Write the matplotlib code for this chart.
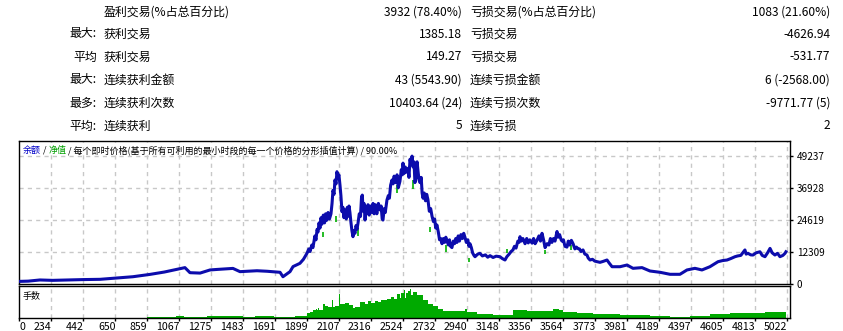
import matplotlib
matplotlib.use("Agg")
import matplotlib.pyplot as plt

plt.rcParams['font.family'] = ['Noto Sans CJK SC', 'DejaVu Sans']

W, H = 843, 331

# ---------------- data ----------------
row_prefix = ["", "最大:", "平均", "最大:", "最多:", "平均:"]
win_caption = ["盈利交易(%占总百分比)", "获利交易", "获利交易", "连续获利金额", "连续获利次数", "连续获利"]
win_value = ["3932 (78.40%)", "1385.18", "149.27", "43 (5543.90)", "10403.64 (24)", "5"]
loss_caption = ["亏损交易(%占总百分比)", "亏损交易", "亏损交易", "连续亏损金额", "连续亏损次数", "连续亏损"]
loss_value = ["1083 (21.60%)", "-4626.94", "-531.77", "6 (-2568.00)", "-9771.77 (5)", "2"]

# balance curve: (trade number, balance)
balance_points = [
    (0, 1000), (60, 1100), (137, 1550), (220, 1400), (314, 1550), (420, 1700), (530, 1800),
    (640, 2300), (745, 2800), (857, 3700), (950, 4600),
    (1033, 5650), (1085, 6300), (1118, 4350), (1184, 4200), (1249, 5400), (1295, 5600),
    (1399, 6000), (1445, 4750), (1556, 5100), (1622, 4900), (1707, 4500), (1726, 2800),
    (1772, 4750), (1792, 6700), (1837, 7950), (1860, 9500), (1883, 11800), (1895, 13500),
    (1903, 12500), (1915, 15000), (1922, 14000), (1935, 18500), (1942, 17000), (1949, 21000),
    (1955, 20000), (1962, 23500), (1968, 21500), (1975, 25500), (1981, 23000), (1990, 26500),
    (1998, 23500), (2005, 27000), (2012, 24500), (2021, 27500), (2030, 25000), (2040, 27000),
    (2047, 31000), (2053, 36000), (2060, 34500), (2066, 40000), (2073, 38500), (2079, 43200),
    (2086, 41000), (2092, 42000), (2099, 38000), (2105, 34000), (2112, 27800), (2118, 29500),
    (2125, 25500), (2132, 28500), (2140, 25000), (2147, 29500), (2151, 26000), (2158, 30000),
    (2164, 27500), (2170, 24000), (2177, 20500), (2184, 18200), (2190, 20500), (2197, 19500),
    (2204, 22500), (2210, 21000), (2217, 23500), (2225, 27000), (2233, 26000), (2240, 33500),
    (2245, 34200), (2250, 28000), (2256, 31000), (2263, 24600), (2270, 29500), (2276, 27000),
    (2282, 30500), (2290, 26500), (2297, 30000), (2305, 27500), (2315, 31000), (2322, 27000),
    (2330, 30500), (2340, 27000), (2350, 31000), (2361, 28500), (2368, 30000), (2375, 25000),
    (2380, 24600), (2388, 29000), (2395, 27500), (2406, 32300), (2415, 34000), (2422, 33000),
    (2430, 38000), (2439, 40000), (2446, 38500), (2453, 41500), (2460, 39000), (2472, 42000),
    (2480, 37000), (2491, 39500), (2500, 44000), (2506, 42000), (2511, 46500), (2518, 42500),
    (2526, 45000), (2532, 43000), (2544, 44500), (2550, 41000), (2557, 48000), (2563, 46000),
    (2570, 49200), (2577, 45000), (2583, 47000), (2589, 39000), (2596, 41000), (2603, 47000),
    (2610, 43000), (2616, 40000), (2622, 39000), (2630, 41000), (2636, 35000), (2642, 33000),
    (2650, 35000), (2658, 32000), (2666, 34500), (2674, 32500), (2683, 28000), (2692, 29000),
    (2701, 26000), (2710, 24000), (2718, 25000), (2725, 21500), (2733, 22700), (2742, 20000),
    (2750, 17000), (2758, 17500), (2766, 15500), (2775, 17500), (2783, 16000), (2791, 18000),
    (2799, 16500), (2808, 15000), (2815, 17000), (2822, 14500), (2831, 14000), (2840, 16500),
    (2848, 15500), (2856, 17500), (2864, 16000), (2872, 18500), (2880, 16500), (2890, 19000),
    (2900, 17500), (2908, 19500), (2916, 18000), (2925, 16000), (2935, 17000), (2942, 14500),
    (2949, 15500), (2958, 14000), (2966, 12000), (2975, 11000), (2982, 10500), (3000, 11500),
    (3014, 11800), (3030, 10800), (3050, 11200), (3065, 10300), (3080, 10900), (3100, 10200),
    (3120, 10700), (3145, 10500), (3160, 9800), (3178, 9230), (3190, 10500), (3205, 11500),
    (3218, 12500), (3230, 13100), (3240, 14500), (3250, 13800), (3262, 16500), (3270, 16000),
    (3276, 18200), (3285, 16500), (3295, 17500), (3309, 15500), (3320, 17500), (3330, 15800),
    (3340, 17000), (3355, 15700), (3365, 17500), (3375, 15500), (3387, 16800), (3400, 18500),
    (3410, 16500), (3420, 19500), (3430, 17000), (3440, 14000), (3453, 15500), (3465, 15000),
    (3475, 17500), (3485, 16000), (3495, 17500), (3505, 16500), (3518, 20200), (3525, 18000),
    (3535, 19000), (3545, 17000), (3551, 16500), (3560, 17000), (3570, 14500), (3583, 14200),
    (3592, 16500), (3600, 15000), (3612, 16800), (3623, 15500), (3635, 13500), (3645, 14200),
    (3655, 13600), (3665, 13500), (3675, 12500), (3688, 13100), (3700, 11500), (3714, 11150),
    (3722, 10000), (3734, 9230), (3750, 9500), (3765, 8800), (3780, 8600), (3799, 8330),
    (3820, 8700), (3845, 9230), (3860, 8000), (3878, 6650), (3930, 6650), (3976, 7300),
    (4015, 6030), (4074, 6300), (4126, 5000), (4192, 4500), (4257, 3730), (4322, 3730),
    (4368, 5400), (4420, 6030), (4466, 5400), (4518, 6650), (4571, 8580), (4600, 9000),
    (4630, 9230), (4655, 9800), (4682, 10500), (4700, 10800), (4720, 11000), (4747, 13100),
    (4755, 11500), (4767, 11800), (4785, 11200), (4800, 11150), (4820, 12000), (4845, 12400),
    (4860, 11000), (4878, 10500), (4895, 12000), (4911, 13700), (4925, 12000), (4943, 11150),
    (4960, 11800), (4976, 10500), (4995, 11000), (5009, 11800), (5015, 12400),
]
bal_trade = [p[0] for p in balance_points]
bal_value = [p[1] for p in balance_points]

# equity drawdown spikes: trade, top, low
eq_trade = [1990, 2070, 2215, 2470, 2575, 2690, 2790, 2940, 3190, 3440, 3610]
eq_top = [20100, 26300, 21000, 38000, 40000, 22000, 15000, 10000, 13500, 13000, 15000]
eq_low = [18000, 24000, 18500, 35000, 36500, 20000, 12500, 8500, 12000, 11500, 13000]

# volume (lots) as steps: (segment start trade, height)
volume_points = [
    (0, 0), (837, 1.0), (1027, 2.0), (1080, 1.0), (1230, 2.0), (1465, 1.0), (1540, 1.8),
    (1670, 1.0), (1707, 0.7), (1805, 2.0), (1883, 5.0), (1905, 6.5), (1922, 7.7),
    (1940, 9.5), (1948, 7.7), (1955, 10.0), (1962, 7.7), (1988, 13.7), (2000, 12.0),
    (2020, 11.0), (2047, 18.0), (2054, 11.0), (2065, 12.5), (2092, 24.0), (2099, 14.0),
    (2130, 15.0), (2160, 13.0), (2184, 10.0), (2200, 11.5), (2230, 16.0), (2260, 14.0),
    (2280, 17.0), (2300, 15.5), (2330, 17.5), (2350, 16.0), (2370, 18.0), (2406, 19.0),
    (2430, 21.0), (2450, 19.5), (2472, 24.0), (2490, 20.0), (2500, 25.0), (2517, 28.0),
    (2524, 20.0), (2530, 25.0), (2545, 27.0), (2557, 29.0), (2563, 23.0), (2576, 26.0),
    (2600, 22.7), (2642, 17.7), (2675, 14.0), (2707, 11.7), (2740, 9.0), (2772, 7.0),
    (2840, 7.5), (2916, 9.0), (2930, 6.0), (2995, 3.7), (3100, 3.3), (3230, 7.7),
    (3290, 8.0), (3322, 7.0), (3420, 7.5), (3492, 9.0), (3530, 8.0), (3557, 6.3),
    (3650, 5.5), (3753, 3.7), (3930, 2.7), (4126, 1.7), (4257, 1.0), (4388, 2.3),
    (4518, 4.3), (4650, 4.8), (4780, 5.5), (4880, 6.2), (5015, 6.2),
]
vol_trade = [p[0] for p in volume_points]
vol_value = [p[1] for p in volume_points]

y_ticks = [0, 12309, 24619, 36928, 49237]
x_tick_labels = ["0", "234", "442", "650", "859", "1067", "1275", "1483", "1691", "1899",
                 "2107", "2316", "2524", "2732", "2940", "3148", "3356", "3564", "3773",
                 "3981", "4189", "4397", "4605", "4813", "5022"]

# ---------------- layout ----------------
fig = plt.figure(figsize=(W / 100, H / 100), dpi=100)
fig.patch.set_facecolor('white')

def fx(px):
    return px / W

def fy(py):
    return 1 - py / H

table_rows_y = [12, 34, 57, 80, 103, 126]
prefix_x = [69, 69, 73, 69, 69, 69]
fs_table = 8.6
for i, yy in enumerate(table_rows_y):
    if row_prefix[i]:
        fig.text(fx(prefix_x[i]), fy(yy), row_prefix[i], fontsize=fs_table, ha='left', va='center')
    fig.text(fx(104), fy(yy), win_caption[i], fontsize=fs_table, ha='left', va='center')
    fig.text(fx(462), fy(yy), win_value[i], fontsize=fs_table, ha='right', va='center')
    fig.text(fx(470), fy(yy), loss_caption[i], fontsize=fs_table, ha='left', va='center')
    fig.text(fx(830), fy(yy), loss_value[i], fontsize=fs_table, ha='right', va='center')

left_px, right_px = 19, 790
main_top, main_bot = 141, 284
vol_top, vol_bot = 286, 318
px_per_tick = 32.0
trades_per_tick = 209.25
x_max = (right_px - left_px) / px_per_tick * trades_per_tick
y_max = (main_bot - main_top) / 32.0 * 12309

ax = fig.add_axes([fx(left_px), fy(main_bot), fx(right_px - left_px), (main_bot - main_top) / H])
axv = fig.add_axes([fx(left_px), fy(vol_bot), fx(right_px - left_px), (vol_bot - vol_top) / H])

x_ticks = [k * trades_per_tick for k in range(len(x_tick_labels))]
grid_kw = dict(color='#c8c8c8', linestyle=(0, (3, 3)), linewidth=1.0)

for a in (ax, axv):
    a.set_xlim(0, x_max)
    for s in a.spines.values():
        s.set_linewidth(1.0)
        s.set_color('black')
    for xt in x_ticks[1:]:
        a.axvline(xt, zorder=0, **grid_kw)

ax.set_ylim(0, y_max)
for yt in y_ticks[1:]:
    ax.axhline(yt, zorder=0, **grid_kw)

ax.vlines(eq_trade, eq_low, eq_top, color='#00b000', linewidth=1.2, zorder=2)
ax.plot(bal_trade, bal_value, color='#0c0cac', linewidth=2.2, zorder=3)

ax.set_xticks([])
ax.yaxis.tick_right()
ax.set_yticks(y_ticks)
ax.set_yticklabels([str(v) for v in y_ticks], fontsize=7.2)
ax.tick_params(axis='y', direction='out', length=2, width=1, pad=3)

hdr_y = fy(150)
fs_hdr = 6.5
t1 = fig.text(fx(23), hdr_y, "余额", fontsize=fs_hdr, color='#0000c8', ha='left', va='center')
fig.canvas.draw()
r = fig.canvas.get_renderer()
bb = t1.get_window_extent(r)
t2 = fig.text(bb.x1 / W, hdr_y, " / ", fontsize=fs_hdr, color='black', ha='left', va='center')
bb = t2.get_window_extent(r)
t3 = fig.text(bb.x1 / W, hdr_y, "净值", fontsize=fs_hdr, color='#00a000', ha='left', va='center')
bb = t3.get_window_extent(r)
fig.text(bb.x1 / W, hdr_y, " / 每个即时价格(基于所有可利用的最小时段的每一个价格的分形插值计算) / 90.00%",
         fontsize=fs_hdr, color='black', ha='left', va='center')

axv.fill_between(vol_trade, 0, vol_value, step='post', color='#00aa00', linewidth=0)
axv.set_ylim(0, 32)
axv.set_yticks([])
axv.set_xticks(x_ticks)
axv.set_xticklabels([])
axv.tick_params(axis='x', direction='out', length=2, width=1)
fig.text(fx(23), fy(296), "手数", fontsize=fs_hdr, ha='left', va='center')

for k, lab in enumerate(x_tick_labels):
    px = left_px + k * px_per_tick
    if k == 0:
        fig.text(fx(px + 1), fy(327), lab, fontsize=7.6, ha='left', va='center')
    else:
        fig.text(fx(px + 0.5), fy(327), lab, fontsize=7.6, ha='right', va='center')

fig.savefig("out.png", dpi=100, facecolor='white')
